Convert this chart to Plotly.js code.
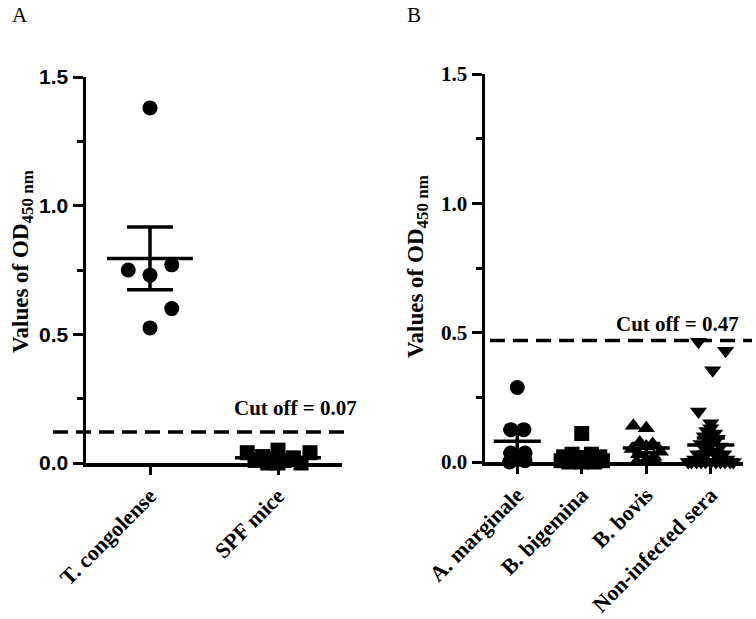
<!DOCTYPE html>
<html>
<head>
<meta charset="utf-8">
<script src="https://cdn.plot.ly/plotly-3.0.1.min.js"></script>
<style>html,body{margin:0;padding:0;background:#fff;}#chart{width:756px;height:619px;}</style>
</head>
<body>
<div id="chart"></div>
<script>
// ---------- Panel A data ----------
const catsA = ["T. congolense", "SPF mice"];
const tCongolense = [1.38, 0.77, 0.75, 0.73, 0.60, 0.525];
const tCongolenseJitter = [0, 0.17, -0.17, 0, 0.17, 0];
const spfMice = [0.04, 0.05, 0.04, 0.025, 0.02, 0.015, 0.01, 0.01, 0.0, 0.0, -0.005, 0.0];
const spfJitter = [-0.24, 0, 0.25, -0.12, 0.12, -0.05, 0.05, -0.18, 0.18, -0.08, 0.08, 0.0];
const meansA = [0.795, 0.02];
const semA = [0.122, 0.006];
const cutoffA = 0.12;
const cutoffLabelA = "Cut off = 0.07";

// ---------- Panel B data ----------
const catsB = ["A. marginale", "B. bigemina", "B. bovis", "Non-infected sera"];
const aMarginale = [0.288, 0.125, 0.125, 0.035, 0.035, 0.01, 0.0, 0.005];
const aMarginaleJitter = [0, -0.1, 0.1, -0.1, 0.12, 0, -0.12, 0.12];
const bBigemina = [0.11, 0.03, 0.03, 0.02, 0.02, 0.01, 0.01, 0.0, 0.0, 0.005, 0.005, 0.0];
const bBigeminaJitter = [0, -0.15, 0.15, -0.28, 0.28, -0.08, 0.08, -0.2, 0.2, -0.32, 0.32, 0];
const bBovis = [0.14, 0.13, 0.075, 0.07, 0.06, 0.05, 0.04, 0.03, 0.02, 0.01, 0.0, 0.0];
const bBovisJitter = [-0.2, 0.0, -0.1, 0.1, 0, -0.22, 0.22, -0.12, 0.12, 0, -0.15, 0.15];
const nonInfected = [0.465, 0.43, 0.355, 0.195, 0.15, 0.13, 0.12, 0.11, 0.10, 0.09, 0.08, 0.07,
  0.06, 0.05, 0.04, 0.03, 0.03, 0.02, 0.02, 0.01, 0.01, 0.0, 0.0, 0.0, 0.0, 0.0, 0.0, 0.0, 0.0, 0.0, 0.0, 0.0];
const nonInfectedJitter = [-0.19, 0.23, 0.03, -0.19, 0.0, 0.0, -0.06, 0.06, -0.1, 0.1, 0.0, -0.15,
  0.15, -0.05, 0.05, -0.2, 0.2, -0.1, 0.1, -0.25, 0.25, -0.3, 0.3, -0.15, 0.15, 0.0, -0.22, 0.22, -0.08, 0.08, -0.35, 0.35];
const meansB = [0.08, 0.03, 0.054, 0.066];
const semB = [0.045, 0.01, 0.018, 0.027];
const cutoffB = 0.47;
const cutoffLabelB = "Cut off = 0.47";

const yTickVals = [0, 0.5, 1.0, 1.5];
const yTickText = ["0.0", "0.5", "1.0", "1.5"];
const yMinorVals = [0.25, 0.75, 1.25];
const yTitle = "Values of OD<sub><span style=\"font-size:17px\">450 nm</span></sub>";

// ---------- helpers ----------
function withJitter(catIndex, jit) { return jit.map(j => catIndex + j); }
const W = 756, H = 619;
const serif = "Liberation Serif, Times New Roman, serif";
const sans = "Liberation Sans, Arial, sans-serif";

function pts(xa, ya, cat, vals, jit, symbol) {
  return {
    type: "scatter", mode: "markers", xaxis: xa, yaxis: ya, cliponaxis: false,
    x: withJitter(cat, jit), y: vals,
    marker: {symbol: symbol, size: 15, color: "#000", line: {width: 0}},
    hoverinfo: "skip", showlegend: false
  };
}
// line-ew marker is drawn 1.4 x size wide
function meanSem(xa, ya, means, sems, lineWpx, capHalf) {
  return {
    type: "scatter", mode: "markers", xaxis: xa, yaxis: ya, cliponaxis: false,
    x: means.map((_, i) => i), y: means,
    marker: {symbol: "line-ew-open", size: lineWpx / 1.4, color: "#000", line: {width: 3.5, color: "#000"}},
    error_y: {type: "data", array: sems, visible: true, thickness: 3.5, width: capHalf, color: "#000"},
    hoverinfo: "skip", showlegend: false
  };
}

const traces = [
  pts("x", "y", 0, tCongolense, tCongolenseJitter, "circle"),
  pts("x", "y", 1, spfMice, spfJitter, "square"),
  meanSem("x", "y", meansA, semA, 86, 23),
  pts("x2", "y2", 0, aMarginale, aMarginaleJitter, "circle"),
  pts("x2", "y2", 1, bBigemina, bBigeminaJitter, "square"),
  pts("x2", "y2", 2, bBovis, bBovisJitter, "triangle-up"),
  pts("x2", "y2", 3, nonInfected, nonInfectedJitter, "triangle-down"),
  meanSem("x2", "y2", meansB, semB, 47, 14)
];

function yAxis(domain, fontFam, anchor) {
  return {
    domain: domain, anchor: anchor, range: [0, 1.5],
    tickmode: "array", tickvals: yTickVals, ticktext: yTickText,
    ticks: "outside", ticklen: 10, tickwidth: 3, tickcolor: "#000",
    minor: {tickmode: "array", tickvals: yMinorVals, ticks: "outside", ticklen: 6, tickwidth: 3, tickcolor: "#000", showgrid: false},
    showline: true, linewidth: 3.5, linecolor: "#000", showgrid: false, zeroline: false,
    tickfont: {family: fontFam, size: 21, color: "#000", weight: "bold"}, ticklabelstandoff: 0
  };
}
function xAxis(domain, cats, anchor) {
  return {
    domain: domain, anchor: anchor, range: [-0.5, cats.length - 0.5],
    tickmode: "array", tickvals: cats.map((_, i) => i), ticktext: cats, tickangle: -45,
    ticks: "outside", ticklen: 8, tickwidth: 3, tickcolor: "#000",
    showline: true, linewidth: 3.5, linecolor: "#000", showgrid: false, zeroline: false,
    tickfont: {family: serif, size: 22, color: "#000", weight: "bold"}
  };
}

const layout = {
  width: W, height: H, margin: {l: 0, r: 0, t: 0, b: 0},
  paper_bgcolor: "#fff", plot_bgcolor: "rgba(0,0,0,0)", showlegend: false,
  xaxis: xAxis([86 / W, 342 / W], catsA, "y"),
  yaxis: yAxis([1 - 463 / H, 1 - 77 / H], sans, "x"),
  xaxis2: xAxis([485 / W, 743 / W], catsB, "y2"),
  yaxis2: yAxis([1 - 462 / H, 1 - 74 / H], serif, "x2"),
  shapes: [
    {type: "line", xref: "paper", yref: "y", x0: 53 / W, x1: 346 / W, y0: cutoffA, y1: cutoffA,
     line: {color: "#000", width: 3.5, dash: "15px,8px"}},
    {type: "line", xref: "paper", yref: "y2", x0: 490 / W, x1: 752 / W, y0: cutoffB, y1: cutoffB,
     line: {color: "#000", width: 3.5, dash: "15px,8px"}}
  ],
  annotations: [
    {text: "A", xref: "paper", yref: "paper", x: 10 / W, y: 1 - 15 / H, xanchor: "left", yanchor: "middle",
     showarrow: false, font: {family: serif, size: 21, color: "#000"}},
    {text: "B", xref: "paper", yref: "paper", x: 405 / W, y: 1 - 15 / H, xanchor: "left", yanchor: "middle",
     showarrow: false, font: {family: serif, size: 21, color: "#000"}},
    {text: yTitle, xref: "paper", yref: "paper", x: 22 / W, y: 1 - 262 / H, xanchor: "center", yanchor: "middle",
     textangle: -90, showarrow: false, font: {family: serif, size: 23, color: "#000", weight: "bold"}},
    {text: yTitle, xref: "paper", yref: "paper", x: 418 / W, y: 1 - 267 / H, xanchor: "center", yanchor: "middle",
     textangle: -90, showarrow: false, font: {family: serif, size: 23, color: "#000", weight: "bold"}},
    {text: cutoffLabelA, xref: "paper", yref: "paper", x: 295 / W, y: 1 - 408 / H, xanchor: "center", yanchor: "middle",
     showarrow: false, font: {family: serif, size: 21, color: "#000", weight: "bold"}},
    {text: cutoffLabelB, xref: "paper", yref: "paper", x: 677 / W, y: 1 - 324 / H, xanchor: "center", yanchor: "middle",
     showarrow: false, font: {family: serif, size: 21, color: "#000", weight: "bold"}}
  ]
};

Plotly.newPlot("chart", traces, layout, {displayModeBar: false, staticPlot: true});
</script>
</body>
</html>
